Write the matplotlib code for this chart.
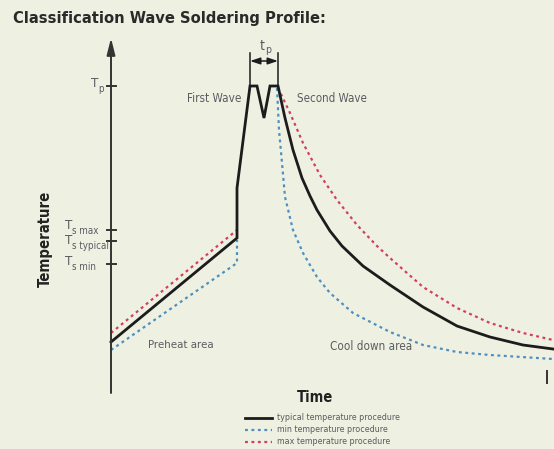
import matplotlib
matplotlib.use('Agg')
import matplotlib.pyplot as plt
from matplotlib import font_manager
from matplotlib.font_manager import FontProperties

# ─── Data (time, temperature in arbitrary units) ──────────────────────────────
typical_time = [0, 126, 126, 139, 146, 153, 159, 167, 174, 182, 191, 199, 206, 219,
                231, 252, 279, 312, 346, 379, 412, 442]
typical_temp = [35, 139, 189, 291, 291, 259, 291, 291, 259, 227, 199, 181, 167, 146,
                131, 111, 92, 70, 51, 40, 32, 28]

max_pre_time = [0, 126]
max_pre_temp = [44, 147]
max_cool_time = [167, 169, 179, 192, 209, 226, 246, 266, 279, 296, 312, 346, 379, 412, 442]
max_cool_temp = [289, 285, 264, 234, 202, 177, 152, 131, 119, 104, 90, 69, 54, 44, 37]

min_pre_time = [0, 126, 126]
min_pre_temp = [27, 114, 137]
min_cool_time = [166, 168, 171, 174, 182, 192, 206, 219, 242, 279, 312, 346, 379, 442]
min_cool_temp = [289, 247, 214, 180, 147, 124, 100, 84, 64, 45, 32, 25, 22, 18]

tick_values = [291, 147, 136, 113]
tick_subs = ['p', 's max', 's typical', 's min']
tp_start, tp_end = 139, 167

legend_labels = ['typical temperature procedure',
                 'min temperature procedure',
                 'max temperature procedure']

# ─── Fonts: prefer a condensed face, like the original artwork ───────────────
def _weight(f):
    w = f.weight
    if isinstance(w, str):
        w = {'bold': 700, 'heavy': 800, 'black': 900, 'semibold': 600,
             'demibold': 600}.get(w.lower(), 400)
    return w

def pick_font(bold):
    faces = sorted(font_manager.fontManager.ttflist, key=lambda f: f.fname)
    for f in faces:
        narrow = ('Condensed' in f.name or 'Narrow' in f.name
                  or 'Condensed' in f.fname or 'Narrow' in f.fname
                  or str(f.stretch) in ('condensed', 'semi-condensed'))
        if narrow and f.style == 'normal' and ((_weight(f) >= 600) == bold):
            return FontProperties(fname=f.fname)
    return FontProperties(family='Liberation Sans', weight='bold' if bold else 'normal')

FP_REG = pick_font(False)
FP_BOLD = pick_font(True)

BG = '#eef1e2'
BLACK = '#1c1c1c'
AXIS = '#333333'
BLUE = '#4f8fc0'
RED = '#d2405e'
GREY = '#5a5c60'
DOT = (0, (1.3, 1.6))

fig = plt.figure(figsize=(5.54, 4.49), dpi=100, facecolor=BG)
ax = fig.add_axes([0, 0, 1, 1])
ax.set_facecolor(BG)
ax.set_xlim(-111, 443)
ax.set_ylim(-72, 377)
ax.axis('off')
renderer = fig.canvas.get_renderer()

def fit(txt, width_px, vertical=False):
    # scale the font so the text spans roughly the same pixels as the original
    bb = txt.get_window_extent(renderer)
    size = bb.height if vertical else bb.width
    txt.set_fontsize(txt.get_fontsize() * width_px / size)
    return txt

# ─── Axes with arrows ─────────────────────────────────────────────────────────
ax.annotate('', xy=(0, 339), xytext=(0, -16),
            arrowprops=dict(arrowstyle='-|>,head_length=1.0,head_width=0.25',
                            color=AXIS, lw=1.4, shrinkA=0, shrinkB=0))
ax.annotate('', xy=(448, 0), xytext=(-18, 0),
            arrowprops=dict(arrowstyle='-|>,head_length=1.0,head_width=0.3',
                            color=AXIS, lw=1.4, shrinkA=0, shrinkB=0))
ax.plot([436, 436], [-6, 6], color=AXIS, lw=1.4)

for val in tick_values:
    ax.plot([-4, 5], [val, val], color=AXIS, lw=1.4)

tick_x = [-20, -46, -46, -46]
tick_dy = [2, 3.2, 0.3, 2]
for x, val, sub, dy in zip(tick_x, tick_values, tick_subs, tick_dy):
    ax.annotate('T', xy=(x, val), xytext=(0, dy), textcoords='offset points',
                ha='left', va='center', fontproperties=FP_REG, fontsize=9.5, color=GREY)
    ax.annotate(sub, xy=(x, val), xytext=(5.2, dy - 4.0), textcoords='offset points',
                ha='left', va='center', fontproperties=FP_REG, fontsize=7, color=GREY)

# ─── Curves ───────────────────────────────────────────────────────────────────
ax.plot(max_pre_time, max_pre_temp, color=RED, lw=1.6, ls=DOT)
ax.plot(max_cool_time, max_cool_temp, color=RED, lw=1.6, ls=DOT)
ax.plot(min_pre_time, min_pre_temp, color=BLUE, lw=1.6, ls=DOT)
ax.plot(min_cool_time, min_cool_temp, color=BLUE, lw=1.6, ls=DOT)
ax.plot(typical_time, typical_temp, color=BLACK, lw=2.0, solid_joinstyle='miter')

# ─── tp marker ────────────────────────────────────────────────────────────────
for t in (tp_start, tp_end):
    ax.plot([t, t], [tick_values[0], 324], color=BLACK, lw=1.1)
ax.annotate('', xy=(tp_start, 316), xytext=(tp_end, 316),
            arrowprops=dict(arrowstyle='<|-|>,head_length=0.6,head_width=0.2',
                            color=BLACK, lw=1.1, shrinkA=0, shrinkB=0))
tp_x = (tp_start + tp_end) / 2 - 1.5
ax.annotate('t', xy=(tp_x, 330), xytext=(0, 1), textcoords='offset points',
            ha='center', va='center', fontproperties=FP_REG, fontsize=10, color=GREY)
ax.annotate('p', xy=(tp_x, 330), xytext=(1.8, -2), textcoords='offset points',
            ha='left', va='center', fontproperties=FP_REG, fontsize=7.5, color=GREY)

# ─── Labels ───────────────────────────────────────────────────────────────────
fit(ax.text(103, 278, 'First Wave', ha='center', va='center',
            fontproperties=FP_REG, fontsize=10, color=GREY), 54)
fit(ax.text(221, 278, 'Second Wave', ha='center', va='center',
            fontproperties=FP_REG, fontsize=10, color=GREY), 70)
fit(ax.text(70, 32, 'Preheat area', ha='center', va='center',
            fontproperties=FP_REG, fontsize=10, color=GREY), 66)
fit(ax.text(260, 30, 'Cool down area', ha='center', va='center',
            fontproperties=FP_REG, fontsize=10, color=GREY), 82)
fit(ax.text(-66, 138, 'Temperature', rotation=90, ha='center', va='center',
            fontproperties=FP_BOLD, fontsize=12, color='#222222'), 96, vertical=True)
fit(ax.text(204, -21, 'Time', ha='center', va='center',
            fontproperties=FP_BOLD, fontsize=12, color='#222222'), 36)

title = fig.text(13 / 554, 1 - 23 / 449, 'Classification Wave Soldering Profile:',
                 ha='left', va='baseline', fontproperties=FP_BOLD, fontsize=14,
                 color='#2a2a2a')
fit(title, 315)

# ─── Legend ───────────────────────────────────────────────────────────────────
legend_styles = [(BLACK, '-', 2.0), (BLUE, DOT, 1.6), (RED, DOT, 1.6)]
leg_size = None
for i, (lab, (col, ls, lw)) in enumerate(zip(legend_labels, legend_styles)):
    y = -41 - 12 * i
    ax.plot([134, 161], [y, y], color=col, ls=ls, lw=lw)
    txt = ax.text(166, y, lab, ha='left', va='center', fontproperties=FP_REG,
                  fontsize=7, color=GREY)
    if leg_size is None:
        fit(txt, 124)
        leg_size = txt.get_fontsize()
    else:
        txt.set_fontsize(leg_size)

fig.savefig('out.png', dpi=100, facecolor=BG)
